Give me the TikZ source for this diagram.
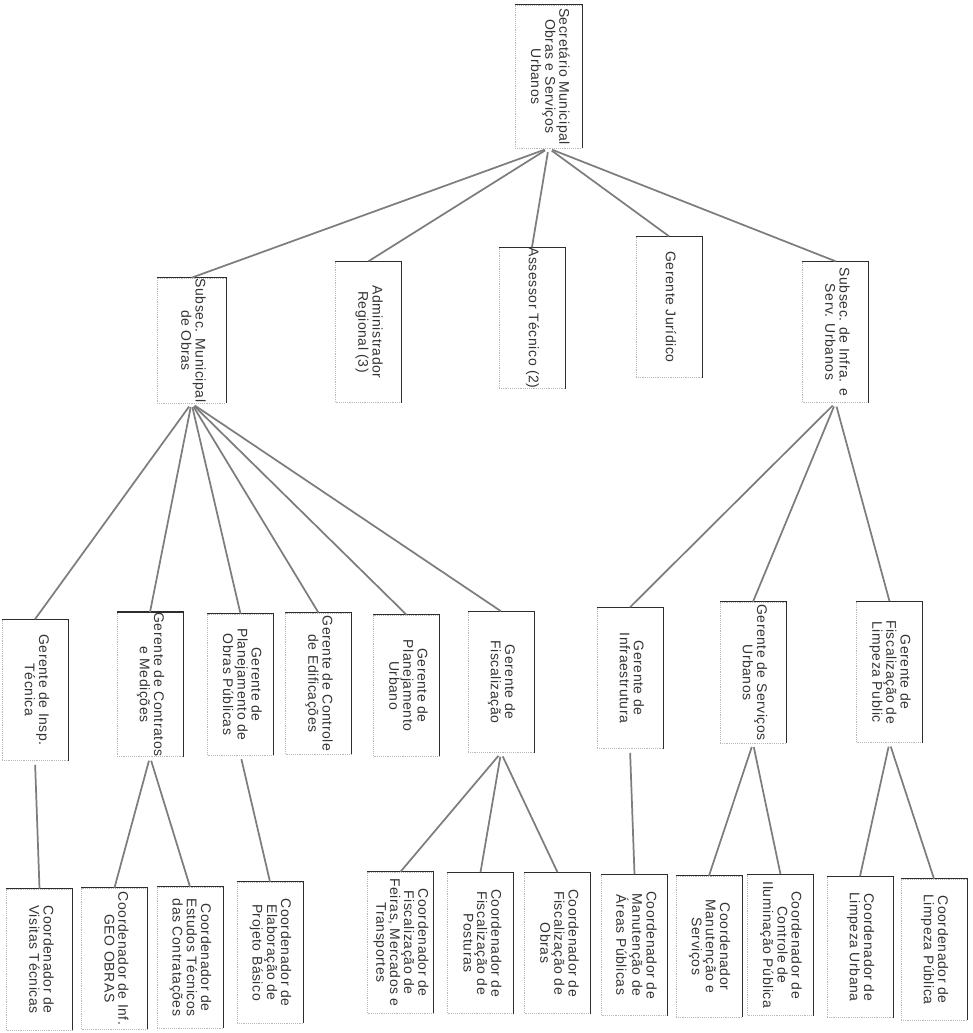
\documentclass[tikz,border=0pt]{standalone}
\usepackage{fontspec}
\newfontfamily\orgfont[LetterSpace=4]{Liberation Sans}
\usepackage{tikz}
\usetikzlibrary{positioning}
\definecolor{linegrey}{RGB}{125,125,125}
\definecolor{edgedark}{RGB}{45,45,45}
\newcommand{\vlabel}[1]{\rotatebox{-90}{\begin{tabular}{@{}c@{}}#1\end{tabular}}}
\tikzset{
  orgbox/.style={draw=gray!55,densely dotted,rectangle,inner sep=0pt,
                 minimum width=49.5pt,minimum height=105.75pt,
                 font=\orgfont\fontsize{10.5}{10}\selectfont,text=black!80},
  boxedge/.style={draw=edgedark,line width=1pt},
  link/.style={draw=linegrey,line width=1.3pt,shorten <=3pt}
}

\begin{document}
\begin{tikzpicture}[x=0.75pt,y=-0.75pt]
  \useasboundingbox (0,0) rectangle (973,1033);
  % top
  \node[orgbox,minimum width=50.25pt,minimum height=107.25pt] (sec) at (548.5,76.5) {\vlabel{Secretário Municipal\\Obras e Serviços\\Urbanos}};
  % second row
  \node[orgbox,minimum width=51.75pt,minimum height=93.75pt] (obras) at (191.5,340.5) {\vlabel{Subsec. Municipal\\de Obras}};
  \node[orgbox] (admin) at (368.5,332) {\vlabel{Administrador\\Regional (3)}};
  \node[orgbox] (assessor) at (532,318) {\vlabel{Assessor Técnico (2)}};
  \node[orgbox] (juridico) at (669,307) {\vlabel{Gerente Jurídico}};
  \node[orgbox] (infra) at (835.5,332) {\vlabel{Subsec. de Infra. e\\Serv. Urbanos}};
  % gerentes
  \node[orgbox] (insp) at (35,690) {\vlabel{Gerente de Insp.\\Técnica}};
  \node[orgbox] (contratos) at (150,684.5) {\vlabel{Gerente de Contratos\\e Medições}};
  \node[orgbox] (planobras) at (240.5,684.5) {\vlabel{Gerente de\\Planejamento de\\Obras Públicas}};
  \node[orgbox] (edif) at (318.5,683.5) {\vlabel{Gerente de Controle\\de Edificações}};
  \node[orgbox] (planurb) at (406.5,685.5) {\vlabel{Gerente de\\Planejamento\\Urbano}};
  \node[orgbox] (fisc) at (501,682) {\vlabel{Gerente de\\Fiscalização}};
  \node[orgbox] (infraest) at (630,678) {\vlabel{Gerente de\\Infraestrutura}};
  \node[orgbox] (servurb) at (753,672.5) {\vlabel{Gerente de Serviços\\Urbanos}};
  \node[orgbox] (fisclimp) at (889.5,672) {\vlabel{Gerente de\\Fiscalização de\\Limpeza Public}};
  % coordenadores
  \node[orgbox] (visitas) at (39.5,959.5) {\vlabel{Coordenador de\\Visitas Técnicas}};
  \node[orgbox] (geo) at (114.5,958.5) {\vlabel{Coordenador de Inf.\\GEO OBRAS}};
  \node[orgbox] (estudos) at (190,957.5) {\vlabel{Coordenador de\\Estudos Técnicos\\das Contratações}};
  \node[orgbox] (projeto) at (270,952.5) {\vlabel{Coordenador de\\Elaboração de\\Projeto Básico}};
  \node[orgbox] (feiras) at (400.5,942.5) {\vlabel{Coordenador de\\Fiscalização de\\Feiras, Mercados e\\Transportes}};
  \node[orgbox] (posturas) at (480.5,943) {\vlabel{Coordenador de\\Fiscalização de\\Posturas}};
  \node[orgbox] (fiscobras) at (557.5,943) {\vlabel{Coordenador de\\Fiscalização de\\Obras}};
  \node[orgbox] (areas) at (634.5,945) {\vlabel{Coordenador de\\Manutenção de\\Áreas Públicas}};
  \node[orgbox] (manserv) at (709,946.5) {\vlabel{Coordenador\\Manutenção e\\Serviços}};
  \node[orgbox] (ilum) at (780.5,945) {\vlabel{Coordenador de\\Controle de\\Iluminação Pública}};
  \node[orgbox] (limpurb) at (860,947) {\vlabel{Coordenador de\\Limpeza Urbana}};
  \node[orgbox] (limppub) at (934,949.5) {\vlabel{Coordenador de\\Limpeza Pública}};
  % heavy top and right edges
  \foreach \n in {sec,obras,admin,assessor,juridico,infra,insp,contratos,planobras,edif,planurb,fisc,
                  infraest,servurb,fisclimp,visitas,geo,estudos,projeto,feiras,posturas,fiscobras,
                  areas,manserv,ilum,limpurb,limppub}
    \draw[boxedge] (\n.north west) -- (\n.north east) -- (\n.south east);
  % connectors
  \foreach \c in {obras,admin,assessor,juridico,infra} \draw[link] (sec.south) -- (\c.north);
  \foreach \c in {insp,contratos,planobras,edif,planurb,fisc} \draw[link] (obras.south) -- (\c.north);
  \foreach \c in {infraest,servurb,fisclimp} \draw[link] (infra.south) -- (\c.north);
  \draw[link] (insp.south) -- (visitas.north);
  \draw[link] (contratos.south) -- (geo.north);
  \draw[link] (contratos.south) -- (estudos.north);
  \draw[link] (planobras.south) -- (projeto.north);
  \foreach \c in {feiras,posturas,fiscobras} \draw[link] (fisc.south) -- (\c.north);
  \draw[link] (infraest.south) -- (areas.north);
  \draw[link] (servurb.south) -- (manserv.north);
  \draw[link] (servurb.south) -- (ilum.north);
  \draw[link] (fisclimp.south) -- (limpurb.north);
  \draw[link] (fisclimp.south) -- (limppub.north);
\end{tikzpicture}
\end{document}
